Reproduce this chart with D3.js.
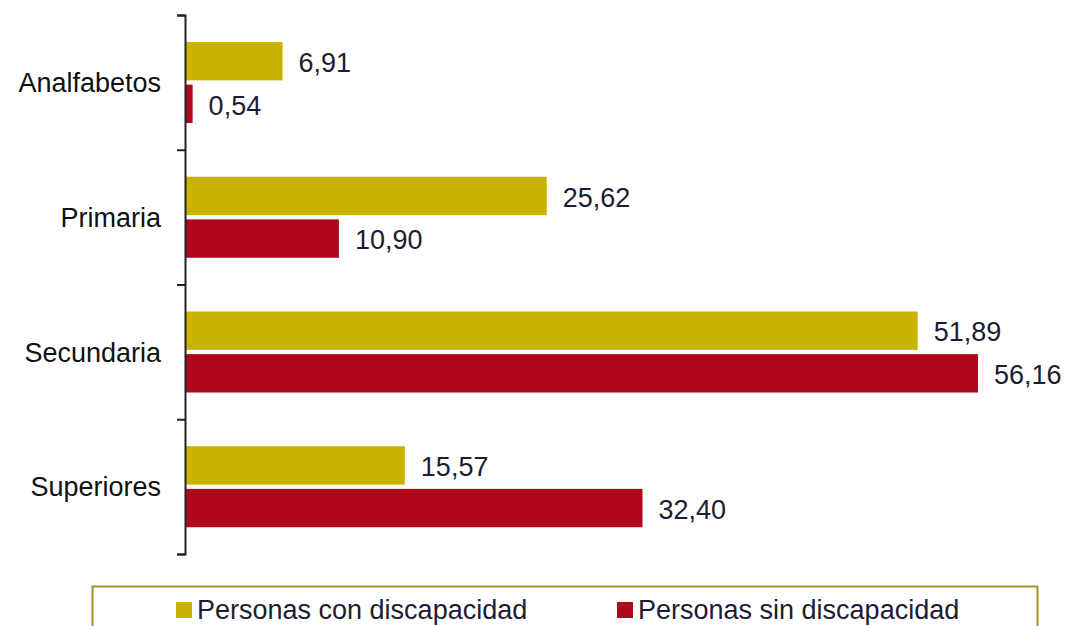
<!DOCTYPE html>
<html>

<head>
	<meta charset="utf-8">
	<script src="https://cdn.jsdelivr.net/npm/d3@7"></script>
	<style>
		body {
			margin: 0;
			background: white;
		}

		text {
			font-family: "Liberation Sans", Arial, sans-serif;
		}
	</style>
</head>

<body>
	<svg></svg>
	<script>
		var width = 1072;
		var height = 626;

		// chart data
		var categories = ["Analfabetos", "Primaria", "Secundaria", "Superiores"];
		var series = ["Personas con discapacidad", "Personas sin discapacidad"];
		var conDiscapacidad = [6.91, 25.62, 51.89, 15.57];
		var sinDiscapacidad = [0.54, 10.90, 56.16, 32.40];
		var colors = ["#c8b400", "#b0071e"];

		var svg = d3.select("svg")
			.attr("width", width)
			.attr("height", height);

		var x = d3.scaleLinear()
			.domain([0, 60])
			.range([185, 185 + 60 * 14.12]);

		var y = d3.scaleBand()
			.domain(categories)
			.range([15, 554]);

		// the two bars inside a category band
		var inner = d3.scaleBand()
			.domain(series)
			.range([27, 108])
			.paddingInner(0.1);

		var rows = categories.map((c, i) => ({
			cat: c,
			values: [conDiscapacidad[i], sinDiscapacidad[i]]
		}));

		var groups = svg.selectAll("g.row")
			.data(rows)
			.enter()
			.append("g")
			.attr("class", "row")
			.attr("transform", d => "translate(0," + y(d.cat) + ")");

		groups.selectAll("rect")
			.data(d => d.values.map((v, j) => ({ v: v, s: series[j], j: j })))
			.enter()
			.append("rect")
			.attr("x", x(0))
			.attr("y", d => inner(d.s))
			.attr("width", d => x(d.v) - x(0))
			.attr("height", inner.bandwidth())
			.style("fill", d => colors[d.j]);

		groups.selectAll("text.val")
			.data(d => d.values.map((v, j) => ({ v: v, s: series[j], j: j })))
			.enter()
			.append("text")
			.attr("class", "val")
			.attr("x", d => x(d.v) + 16)
			.attr("y", d => inner(d.s) + inner.bandwidth() / 2 + 1)
			.attr("dy", "0.36em")
			.style("font-size", "27px")
			.style("fill", "#1c1c34")
			.text(d => d.v.toFixed(2).replace(".", ","));

		// category labels
		svg.selectAll("text.cat")
			.data(categories)
			.enter()
			.append("text")
			.attr("class", "cat")
			.attr("x", 161)
			.attr("y", d => y(d) + y.bandwidth() / 2)
			.attr("dy", "0.36em")
			.attr("text-anchor", "end")
			.style("font-size", "27px")
			.style("fill", "#111")
			.text(d => d);

		// vertical axis with ticks on band boundaries
		var edges = d3.scaleLinear()
			.domain([0, categories.length])
			.range([y.range()[0], y.range()[1]]);
		var axis = svg.append("g")
			.attr("transform", "translate(" + x(0) + ",0)")
			.call(d3.axisLeft(edges).ticks(categories.length).tickSize(8).tickFormat("").tickSizeOuter(8));
		axis.selectAll("path, line")
			.style("stroke", "#222")
			.style("stroke-width", 2);

		// legend
		var legend = svg.append("g");
		legend.append("rect")
			.attr("x", 92.5)
			.attr("y", 586.5)
			.attr("width", 945)
			.attr("height", 80)
			.style("fill", "none")
			.style("stroke", "#a3922c")
			.style("stroke-width", 2);

		var legendX = [176, 617];
		var items = legend.selectAll("g.item")
			.data(series)
			.enter()
			.append("g")
			.attr("class", "item")
			.attr("transform", (d, i) => "translate(" + legendX[i] + ",602)");
		items.append("rect")
			.attr("width", 16)
			.attr("height", 16)
			.style("fill", (d, i) => colors[i]);
		items.append("text")
			.attr("x", 21)
			.attr("y", 17)
			.style("font-size", "27px")
			.style("fill", "#1c1c34")
			.text(d => d);
	</script>
</body>

</html>
